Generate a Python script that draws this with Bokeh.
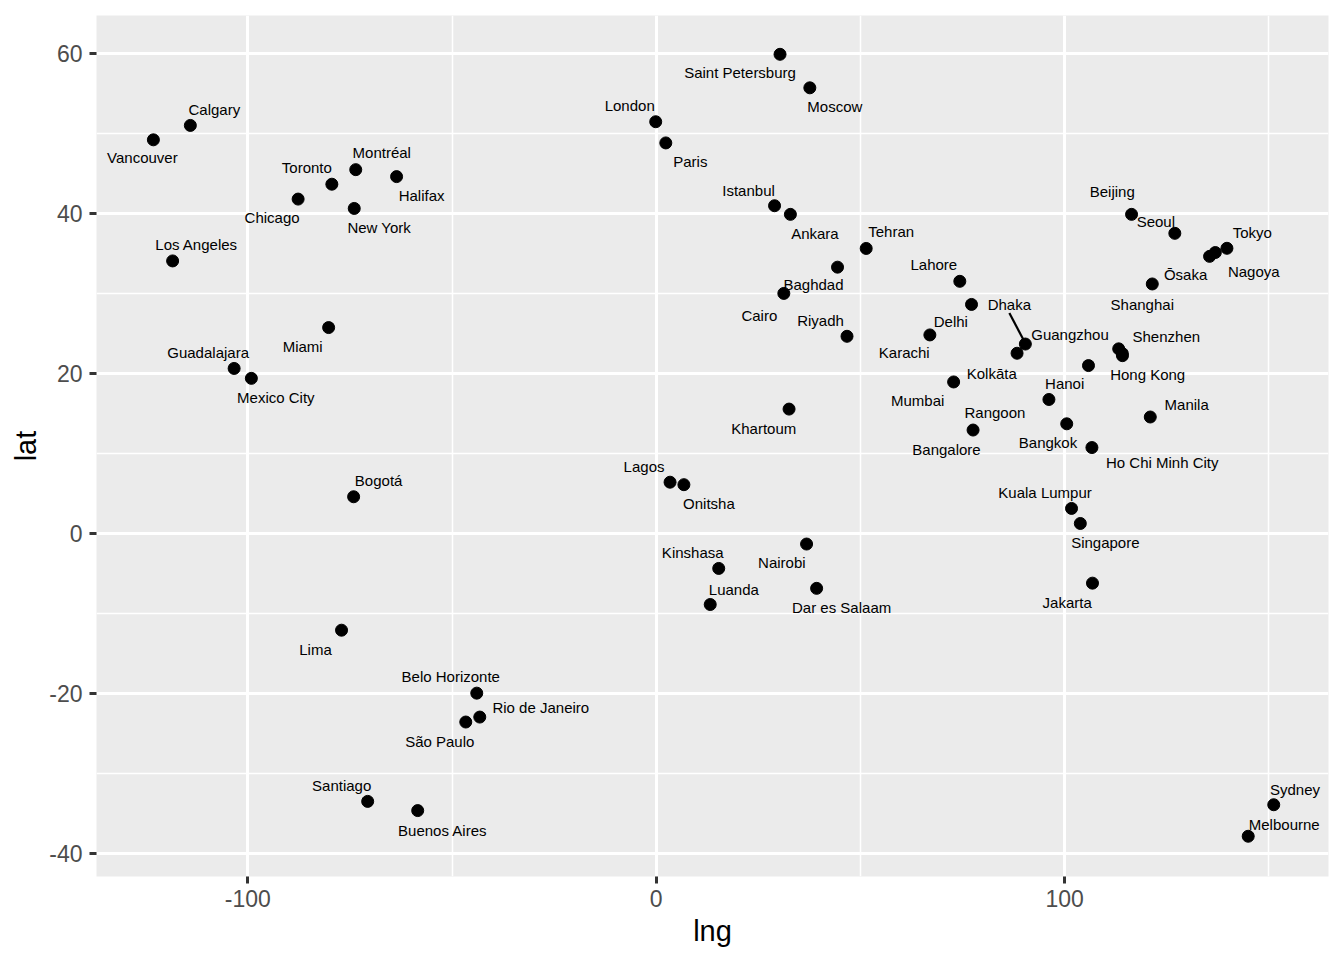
from bokeh.plotting import figure
from bokeh.models import Range1d, FixedTicker, ColumnDataSource
from bokeh.embed import file_html
from bokeh.resources import INLINE
from bokeh.core.properties import value

# ---------------- data ----------------
cities = ["Vancouver", "Calgary", "Toronto", "Montréal", "Halifax", "Chicago", "New York",
          "Los Angeles", "Miami", "Guadalajara", "Mexico City", "Bogotá", "Lima",
          "Belo Horizonte", "Rio de Janeiro", "São Paulo", "Santiago", "Buenos Aires",
          "London", "Paris", "Saint Petersburg", "Moscow", "Istanbul", "Ankara", "Tehran",
          "Baghdad", "Cairo", "Riyadh", "Khartoum", "Lagos", "Onitsha", "Kinshasa", "Nairobi",
          "Luanda", "Dar es Salaam", "Lahore", "Delhi", "Karachi", "Dhaka", "Kolkāta", "Mumbai",
          "Bangalore", "Rangoon", "Hanoi", "Bangkok", "Ho Chi Minh City", "Guangzhou",
          "Shenzhen", "Hong Kong", "Manila", "Beijing", "Seoul", "Shanghai", "Tokyo", "Ōsaka",
          "Nagoya", "Kuala Lumpur", "Singapore", "Jakarta", "Sydney", "Melbourne"]

lng = [-123.12, -114.07, -79.42, -73.57, -63.57, -87.68, -73.94,
       -118.41, -80.21, -103.35, -99.13, -74.09, -77.05,
       -43.94, -43.20, -46.63, -70.65, -58.40,
       -0.12, 2.35, 30.32, 37.62, 28.98, 32.86, 51.42,
       44.40, 31.25, 46.72, 32.53, 3.39, 6.78, 15.31, 36.82,
       13.23, 39.28, 74.34, 77.21, 67.01, 90.39, 88.36, 72.83,
       77.59, 96.16, 105.85, 100.52, 106.69, 113.25,
       114.13, 114.17, 120.98, 116.40, 126.99, 121.47, 139.75, 135.50,
       136.91, 101.70, 103.85, 106.83, 151.21, 144.96]

lat = [49.25, 51.05, 43.70, 45.52, 44.65, 41.84, 40.67,
       34.11, 25.78, 20.67, 19.43, 4.63, -12.05,
       -19.92, -22.91, -23.53, -33.45, -34.60,
       51.51, 48.86, 59.94, 55.75, 41.01, 39.93, 35.67,
       33.33, 30.05, 24.69, 15.59, 6.45, 6.14, -4.33, -1.28,
       -8.84, -6.82, 31.56, 28.67, 24.86, 23.72, 22.57, 18.98,
       12.97, 16.79, 21.03, 13.75, 10.78, 23.12,
       22.53, 22.27, 14.60, 39.93, 37.56, 31.23, 35.69, 34.68,
       35.16, 3.17, 1.29, -6.17, -33.87, -37.81]

x_ticks = [-100, 0, 100]
x_tick_labels = ["-100", "0", "100"]
x_minor = [-150, -50, 50, 150]
y_ticks = [-40, -20, 0, 20, 40, 60]
y_tick_labels = ["-40", "-20", "0", "20", "40", "60"]
y_minor = [-50, -30, -10, 10, 30, 50]

# ---------------- layout (label placement, screen pixels; +y is downward) ----------------
label_dx = [-11, 24, -25, 26, 25, -26, 25,
            24, -26, -26, 24.5, 25, -26,
            -26, 61, -26, -26, 25,
            -26, 24.5, -40, 25, -26, 24.5, 25,
            -24, -24.5, -26.5, -25.3, -26, 25, -26, -24.7,
            23.6, 25, -26, -20.7, -25.6, -16, -25.3, -36,
            -26.6, -54, -23.8, -18.7, 70.3, -48.7,
            44, 25.2, 36.4, -19.3, -19, -10, 25.3, -24,
            38.4, -26.5, 25, -25.3, 21.3, 36]
label_dy = [18, -16, -16.5, -17, 19, 18, 19,
            -16.5, 19, -16, 19, -16.5, 19,
            -17, -10, 19, -16, 20,
            -16, 18.5, 18, 19, -15.5, 19, -17,
            17, 22, -16, 19, -16, 19, -16, 18.5,
            -15, 18.8, -17, 17, 18, -39.5, 19.8, 19,
            19.5, 13, 17.5, 18.7, 15, -14.3,
            -17.5, 18.7, -12.5, -23, -12.3, 20.5, -16, 18,
            19, -16, 19, 19.3, -15.3, -12]

# leader segments (ggrepel-style), offsets in screen px from the point
seg_cities = ["Dhaka"]
seg_start_px = [(-16, -31)]
seg_end_px = [(-1.5, -3.5)]

FRAME_W, FRAME_H = 1232, 861
X0, X1 = -137.05, 164.62
Y0, Y1 = -42.84, 64.79

FONT = "Liberation Sans"

p = figure(frame_width=FRAME_W, frame_height=FRAME_H,
           x_range=Range1d(X0, X1), y_range=Range1d(Y0, Y1),
           output_backend="svg", toolbar_location=None,
           min_border_left=96, min_border_top=15, min_border_right=8, min_border_bottom=76,
           background_fill_color="#EBEBEB", border_fill_color="white",
           outline_line_color=None)

xt = FixedTicker(ticks=x_ticks, minor_ticks=x_minor)
yt = FixedTicker(ticks=y_ticks, minor_ticks=y_minor)
p.xaxis.ticker = xt
p.yaxis.ticker = yt
p.xgrid.ticker = xt
p.ygrid.ticker = yt
p.xaxis.major_label_overrides = dict(zip(x_ticks, x_tick_labels))
p.yaxis.major_label_overrides = dict(zip(y_ticks, y_tick_labels))

for g in (p.xgrid, p.ygrid):
    g.grid_line_color = "white"
    g.grid_line_width = 3
    g.minor_grid_line_color = "white"
    g.minor_grid_line_width = 1.5

for ax in (p.xaxis, p.yaxis):
    ax.axis_line_color = None
    ax.major_tick_in = 0
    ax.major_tick_out = 7
    ax.major_tick_line_width = 3
    ax.major_tick_line_color = "#333333"
    ax.minor_tick_line_color = None
    ax.major_label_text_font = FONT
    ax.major_label_text_font_size = "23px"
    ax.major_label_text_color = "#4D4D4D"
    ax.axis_label_text_font = FONT
    ax.axis_label_text_font_size = "29px"
    ax.axis_label_text_font_style = "normal"
    ax.axis_label_text_color = "black"

p.xaxis.axis_label = "lng"
p.yaxis.axis_label = "lat"
p.xaxis.major_label_standoff = 6
p.yaxis.major_label_standoff = 7
p.xaxis.axis_label_standoff = 5
p.yaxis.axis_label_standoff = 4

src = ColumnDataSource(dict(city=cities, lng=lng, lat=lat, dx=label_dx, dy=label_dy))

# leader segments
ppx = FRAME_W / (X1 - X0)
ppy = FRAME_H / (Y1 - Y0)
sx0, sy0, sx1, sy1 = [], [], [], []
for c, s, e in zip(seg_cities, seg_start_px, seg_end_px):
    i = cities.index(c)
    sx0.append(lng[i] + s[0] / ppx)
    sy0.append(lat[i] - s[1] / ppy)
    sx1.append(lng[i] + e[0] / ppx)
    sy1.append(lat[i] - e[1] / ppy)
p.segment(x0=sx0, y0=sy0, x1=sx1, y1=sy1, line_color="black", line_width=2.2)

p.scatter(x="lng", y="lat", source=src, size=12, color="black")

p.text(x="lng", y="lat", text="city", x_offset="dx", y_offset="dy", source=src,
       text_font=value(FONT), text_font_size="15px", text_align="center",
       text_baseline="middle", text_color="black")

open("out.html", "w").write(file_html(p, INLINE))
